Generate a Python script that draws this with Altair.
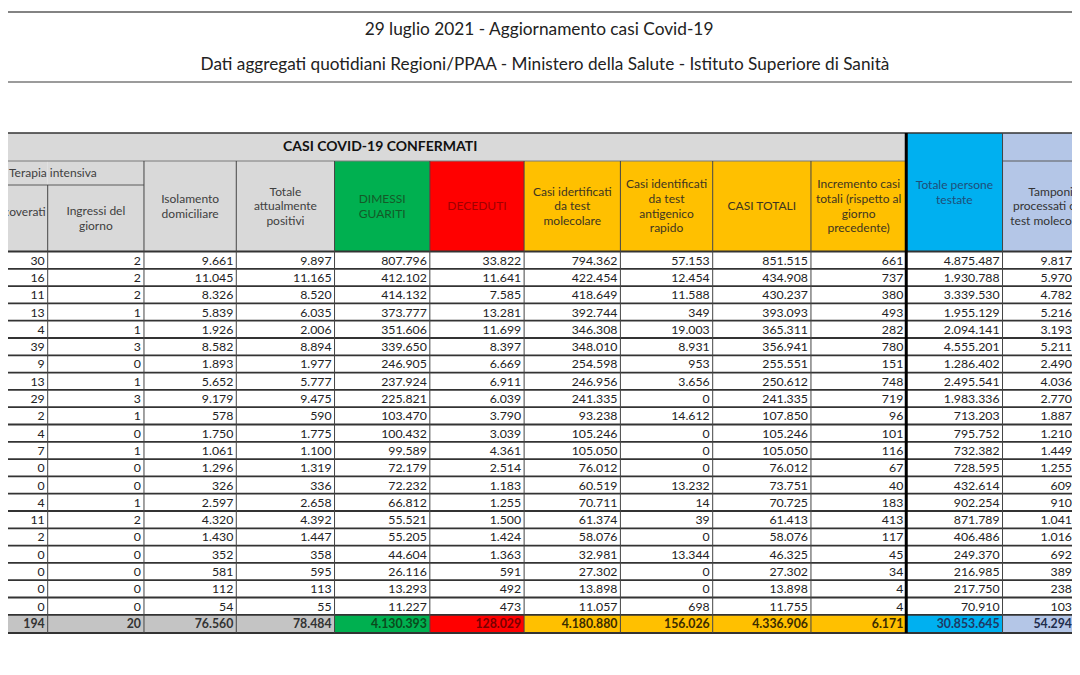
import altair as alt
import pandas as pd

# ---------------- data ----------------
TITLE = "29 luglio 2021 - Aggiornamento casi Covid-19"
SUBTITLE = "Dati aggregati quotidiani Regioni/PPAA - Ministero della Salute - Istituto Superiore di Sanità"
GROUP_TITLE = "CASI COVID-19 CONFERMATI"
TI_TITLE = "Terapia intensiva"

headers = [
    "Ricoverati",
    "Ingressi del\ngiorno",
    "Isolamento\ndomiciliare",
    "Totale\nattualmente\npositivi",
    "DIMESSI\nGUARITI",
    "DECEDUTI",
    "Casi idertificati\nda test\nmolecolare",
    "Casi identificati\nda test\nantigenico\nrapido",
    "CASI TOTALI",
    "Incremento casi\ntotali (rispetto al\ngiorno\nprecedente)",
    "Totale persone\ntestate",
    "Tamponi\nprocessati con\ntest molecolare",
]

ti_ricoverati = [30, 16, 11, 13, 4, 39, 9, 13, 29, 2, 4, 7, 0, 0, 4, 11, 2, 0, 0, 0, 0]
ti_ingressi = [2, 2, 2, 1, 1, 3, 0, 1, 3, 1, 0, 1, 0, 0, 1, 2, 0, 0, 0, 0, 0]
isolamento = [9661, 11045, 8326, 5839, 1926, 8582, 1893, 5652, 9179, 578, 1750,
              1061, 1296, 326, 2597, 4320, 1430, 352, 581, 112, 54]
positivi = [9897, 11165, 8520, 6035, 2006, 8894, 1977, 5777, 9475, 590, 1775,
            1100, 1319, 336, 2658, 4392, 1447, 358, 595, 113, 55]
dimessi = [807796, 412102, 414132, 373777, 351606, 339650, 246905, 237924, 225821,
           103470, 100432, 99589, 72179, 72232, 66812, 55521, 55205, 44604, 26116,
           13293, 11227]
deceduti = [33822, 11641, 7585, 13281, 11699, 8397, 6669, 6911, 6039, 3790, 3039,
            4361, 2514, 1183, 1255, 1500, 1424, 1363, 591, 492, 473]
molecolare = [794362, 422454, 418649, 392744, 346308, 348010, 254598, 246956, 241335,
              93238, 105246, 105050, 76012, 60519, 70711, 61374, 58076, 32981, 27302,
              13898, 11057]
antigenico = [57153, 12454, 11588, 349, 19003, 8931, 953, 3656, 0, 14612, 0, 0, 0,
              13232, 14, 39, 0, 13344, 0, 0, 698]
casi_totali = [851515, 434908, 430237, 393093, 365311, 356941, 255551, 250612, 241335,
               107850, 105246, 105050, 76012, 73751, 70725, 61413, 58076, 46325, 27302,
               13898, 11755]
incremento = [661, 737, 380, 493, 282, 780, 151, 748, 719, 96, 101, 116, 67, 40, 183,
              413, 117, 45, 34, 4, 4]
persone_testate = [4875487, 1930788, 3339530, 1955129, 2094141, 4555201, 1286402,
                   2495541, 1983336, 713203, 795752, 732382, 728595, 432614, 902254,
                   871789, 406486, 249370, 216985, 217750, 70910]
tamponi_visibili = [9817, 5970, 4782, 5216, 3193, 5211, 2490, 4036, 2770, 1887, 1210,
                    1449, 1255, 609, 910, 1041, 1016, 692, 389, 238, 103]

totali = [194, 20, 76560, 78484, 4130393, 128029, 4180880, 156026, 4336906, 6171,
          30853645, 54294]

columns = [ti_ricoverati, ti_ingressi, isolamento, positivi, dimessi, deceduti,
           molecolare, antigenico, casi_totali, incremento, persone_testate,
           tamponi_visibili]

# ---------------- styles / layout ----------------
GRAY = "#d9d9d9"
GRAY_TOT = "#c4c4c4"
GREEN = "#00b050"
RED = "#ff0000"
ORANGE = "#ffc000"
BLUE = "#00b0f0"
LAV = "#b4c6e7"
head_fill = [GRAY, GRAY, GRAY, GRAY, GREEN, RED, ORANGE, ORANGE, ORANGE, ORANGE, BLUE, LAV]
tot_fill = [GRAY_TOT] * 4 + [GREEN, RED, ORANGE, ORANGE, ORANGE, ORANGE, BLUE, LAV]
head_txt = ["#404040"] * 4 + ["#145a28", "#a00000", "#403520", "#403520", "#403520",
                              "#403520", "#1f4e79", "#333333"]
tot_txt = ["#333333"] * 4 + ["#0b4a1c", "#7a0000", "#3b2c00", "#3b2c00", "#3b2c00",
                             "#3b2c00", "#1f3864", "#1f2d4d"]

EDGES = [-49, 48, 145, 238, 337, 433, 528, 625, 718, 817, 913, 1010, 1107]
T_TOP = 133      # table top
BAND = 161       # bottom of group band
TI_LINE = 185    # under "Terapia intensiva"
H_BOT = 251.5    # header bottom
RH = 17.3        # row height
NROWS = len(ti_ricoverati)
TOT_TOP = H_BOT + NROWS * RH
TOT_BOT = 633
RIGHT = 1080
THICK_X = 913
LH = 14.7        # header line height

FONT = "Lato"


def fmt(v):
    return f"{v:,}".replace(",", ".")


def block_top(center, label):
    n = label.count("\n") + 1
    return center - (n - 1) * LH / 2


# ---------------- build tables ----------------
rects = []
for i in range(12):
    top = T_TOP if i >= 10 else BAND
    rects.append(dict(x=EDGES[i], x2=EDGES[i + 1], y=top, y2=H_BOT, fill=head_fill[i]))
    rects.append(dict(x=EDGES[i], x2=EDGES[i + 1], y=TOT_TOP, y2=TOT_BOT, fill=tot_fill[i]))
rects.append(dict(x=EDGES[0], x2=THICK_X, y=T_TOP, y2=BAND, fill=GRAY))
rects_df = pd.DataFrame(rects)

rules = []
LC = "#333333"
rules.append(dict(x=0, x2=RIGHT, y=12, y2=12, c="#5a5a5a", w=1.6))
rules.append(dict(x=0, x2=RIGHT, y=82, y2=82, c="#7a7a7a", w=1.6))
rules.append(dict(x=0, x2=RIGHT, y=T_TOP, y2=T_TOP, c=LC, w=1.5))
rules.append(dict(x=0, x2=THICK_X, y=BAND, y2=BAND, c="#7a7a7a", w=1.0))
rules.append(dict(x=EDGES[11], x2=RIGHT, y=BAND, y2=BAND, c="#5a5a5a", w=1.0))
rules.append(dict(x=0, x2=EDGES[2], y=TI_LINE, y2=TI_LINE, c="#5a5a5a", w=1.0))
for r in range(NROWS + 2):
    yy = H_BOT + r * RH if r <= NROWS else TOT_BOT
    rules.append(dict(x=0, x2=RIGHT, y=yy, y2=yy, c=LC, w=1.8))
for k in range(1, 12):
    if k == 1:
        y0 = TI_LINE
    elif k in (10, 11):
        y0 = T_TOP
    else:
        y0 = BAND
    if k == 10:
        rules.append(dict(x=EDGES[k], x2=EDGES[k], y=y0, y2=TOT_BOT, c="#000000", w=3.0))
    else:
        rules.append(dict(x=EDGES[k], x2=EDGES[k], y=y0, y2=TOT_BOT, c="#444444", w=1.0))
rules_df = pd.DataFrame(rules)

# centered normal texts
ctext = [
    dict(x=543, y=30, t=TITLE, c="#222222", fs=17.3),
    dict(x=549, y=65, t=SUBTITLE, c="#222222", fs=17.2),
]
for i in range(1, 12):
    if i == 1:
        cy = (TI_LINE + H_BOT) / 2
    elif i == 10:
        cy = (T_TOP + H_BOT) / 2
    else:
        cy = (BAND + H_BOT) / 2
    cx = (EDGES[i] + EDGES[i + 1]) / 2
    ctext.append(dict(x=cx, y=block_top(cy, headers[i]), t=headers[i], c=head_txt[i], fs=12))
ctext_df = pd.DataFrame(ctext)

rtext_head = pd.DataFrame([dict(x=46, y=(TI_LINE + H_BOT) / 2 - 6, t=headers[0],
                                c=head_txt[0], fs=12)])

btext_df = pd.DataFrame([dict(x=383, y=(T_TOP + BAND) / 2, t=GROUP_TITLE,
                              c="#111111", fs=14)])
ltext_df = pd.DataFrame([dict(x=9, y=(BAND + TI_LINE) / 2, t=TI_TITLE,
                              c="#404040", fs=12)])

num = []
for i, col in enumerate(columns):
    xr = min(EDGES[i + 1] - 3, RIGHT)
    for r, v in enumerate(col):
        num.append(dict(x=xr, y=H_BOT + (r + 0.5) * RH + 0.5, t=fmt(v), c="#222222", fs=12.3))
num_df = pd.DataFrame(num)

tot = []
for i, v in enumerate(totali):
    xr = min(EDGES[i + 1] - 3, RIGHT)
    tot.append(dict(x=xr, y=(TOT_TOP + TOT_BOT) / 2 + 0.5, t=fmt(v), c=tot_txt[i], fs=12.3))
tot_df = pd.DataFrame(tot)

# ---------------- chart ----------------
xs = alt.Scale(domain=[8, RIGHT], nice=False, zero=False)
ys = alt.Scale(domain=[8, 667], nice=False, zero=False, reverse=True)
X = alt.X("x:Q", scale=xs, axis=None)
Y = alt.Y("y:Q", scale=ys, axis=None)

rect_layer = alt.Chart(rects_df).mark_rect(strokeWidth=0).encode(
    x=X, x2="x2:Q", y=Y, y2="y2:Q", color=alt.Color("fill:N", scale=None)
)
rule_layer = alt.Chart(rules_df).mark_rule().encode(
    x=X, x2="x2:Q", y=Y, y2="y2:Q",
    color=alt.Color("c:N", scale=None),
    strokeWidth=alt.StrokeWidth("w:Q", scale=None),
)


def text_layer(df, align, weight="normal"):
    return alt.Chart(df).mark_text(
        align=align, baseline="middle", font=FONT, fontWeight=weight,
        lineBreak="\n", lineHeight=LH,
    ).encode(
        x=X, y=Y, text="t:N",
        color=alt.Color("c:N", scale=None),
        size=alt.Size("fs:Q", scale=None),
    )


chart = alt.layer(
    rect_layer,
    rule_layer,
    text_layer(ctext_df, "center"),
    text_layer(rtext_head, "right"),
    text_layer(btext_df, "center", "bold"),
    text_layer(ltext_df, "left"),
    text_layer(num_df, "right"),
    text_layer(tot_df, "right", "bold"),
).properties(
    width=1064, height=659,
    autosize=alt.AutoSizeParams(type="none"),
    padding=0,
    background="white",
).configure_view(stroke=None)

chart.save("out.html", embed_options={"renderer": "svg", "actions": False})
